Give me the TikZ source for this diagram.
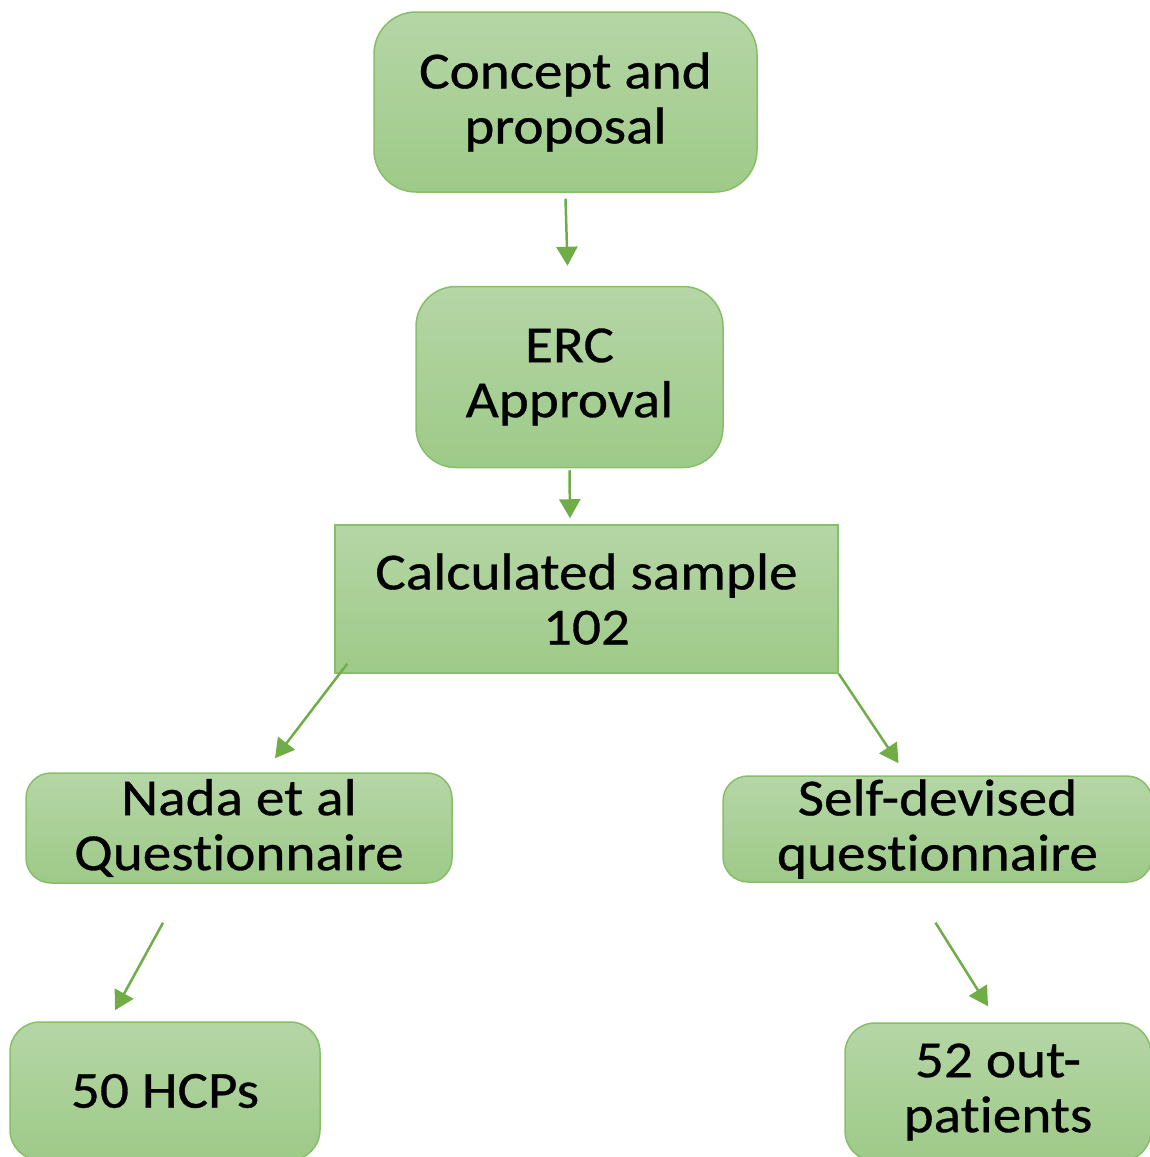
\documentclass[tikz,border=0pt]{standalone}
\usepackage{fontspec}
\setmainfont[FakeStretch=1.1,Ligatures={NoCommon},FakeBold=0.6]{Carlito}
\usetikzlibrary{arrows.meta}
\definecolor{boxtop}{RGB}{181,214,166}
\definecolor{boxbottom}{RGB}{158,202,136}
\definecolor{boxline}{RGB}{135,190,105}
\definecolor{arrowgreen}{RGB}{112,173,71}
\begin{document}
\begin{tikzpicture}[x=1pt,y=-1pt,
    stage/.style={draw=boxline,line width=1.5pt,top color=boxtop,bottom color=boxbottom,
      align=center,inner sep=0pt,font=\fontsize{52}{55}\selectfont},
    flow/.style={draw=arrowgreen,line width=2.5pt,-{Triangle[length=19pt,width=21pt]}}]
          \useasboundingbox (0,0) rectangle (1150,1157);
          \node[stage,rounded corners=42pt,minimum width=383pt,minimum height=180pt] (concept) at (565.5,102) {Concept and\\proposal};
          \node[stage,rounded corners=40pt,minimum width=307pt,minimum height=181pt] (erc) at (569.5,377) {ERC\\Approval};
          \node[stage,minimum width=503pt,minimum height=148pt] (sample) at (586.5,599) {Calculated sample\\102};
          \node[stage,rounded corners=25pt,minimum width=426pt,minimum height=110pt] (nada) at (239,828) {Nada et al\\Questionnaire};
          \node[stage,rounded corners=25pt,minimum width=429pt,minimum height=106pt] (self) at (937.5,829) {Self-devised\\questionnaire};
          \node[stage,rounded corners=30pt,minimum width=310pt,minimum height=138pt] (hcp) at (165,1091) {50 HCPs};
          \node[stage,rounded corners=30pt,minimum width=306pt,minimum height=138pt] (outpat) at (998,1092) {52 out-\\patients};

          \draw[flow] ([yshift=-6pt]concept.south) -- ([xshift=-2pt,yshift=20pt]erc.north);
          \draw[flow] ([yshift=-2pt]erc.south) -- ([xshift=-16.5pt,yshift=6pt]sample.north);
          \draw[flow] ([xshift=13pt,yshift=10pt]sample.south west) -- ([xshift=36pt,yshift=14pt]nada.north);
          \draw[flow] (sample.south east) -- ([xshift=-39pt,yshift=12pt]self.north);
          \draw[flow] ([xshift=-76pt,yshift=-39pt]nada.south) -- ([xshift=-50pt,yshift=11pt]hcp.north);
          \draw[flow] ([xshift=-2pt,yshift=-40pt]self.south) -- ([xshift=-10pt,yshift=16pt]outpat.north);
        \end{tikzpicture}
\end{document}
